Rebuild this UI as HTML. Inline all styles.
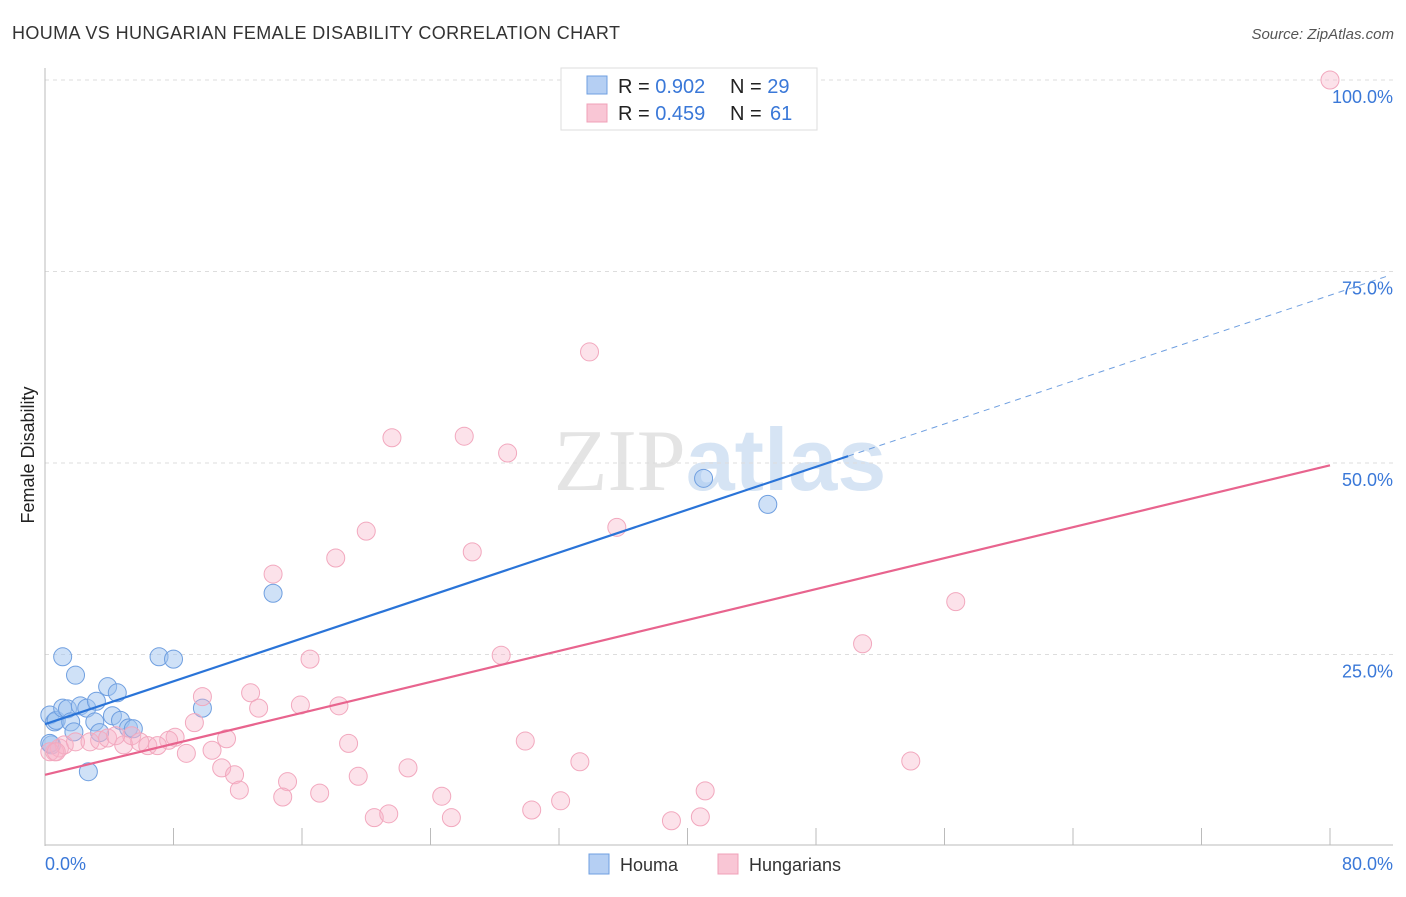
<!DOCTYPE html>
<html><head><meta charset="utf-8"><style>
body{margin:0;background:#fff;font-family:"Liberation Sans",sans-serif;}
svg text{font-family:"Liberation Sans",sans-serif;}
</style></head><body>
<svg id="c" width="1406" height="892">
<text x="12" y="39" font-size="18" fill="#333" textLength="608">HOUMA VS HUNGARIAN FEMALE DISABILITY CORRELATION CHART</text>
<text x="1394" y="39" font-size="15" fill="#555" font-style="italic" text-anchor="end">Source: ZipAtlas.com</text>
<text x="720" y="490" font-size="88" fill="#e4e4e4" text-anchor="middle"><tspan font-family="Liberation Serif">ZIP</tspan><tspan fill="#d6e4f4" font-weight="bold">atlas</tspan></text>
<g id="grid"></g>
<line x1="45" y1="68" x2="45" y2="846" stroke="#bbb"/>
<line x1="45" y1="845" x2="1393" y2="845" stroke="#bbb"/>
<text transform="translate(34,455) rotate(-90)" font-size="18" fill="#222" text-anchor="middle">Female Disability</text>
<text x="45" y="870" font-size="18" fill="#3a78d8">0.0%</text>
<text x="1393" y="870" font-size="18" fill="#3a78d8" text-anchor="end">80.0%</text>
<g id="marks"></g>
<g>
<rect x="561" y="68" width="256" height="62" fill="#fff" stroke="#ddd"/>
<rect x="587" y="76" width="20" height="18" fill="#b5cff3" stroke="#6f9fe0"/>
<rect x="587" y="104" width="20" height="18" fill="#f9c6d5" stroke="#f0a0b8"/>
<text x="618" y="93" font-size="20" fill="#222">R = <tspan fill="#3a78d8">0.902</tspan><tspan x="730">N = </tspan><tspan fill="#3a78d8">29</tspan></text>
<text x="618" y="120" font-size="20" fill="#222">R = <tspan fill="#3a78d8">0.459</tspan><tspan x="730">N = </tspan><tspan x="770" fill="#3a78d8">61</tspan></text>
</g>
<g>
<rect x="589" y="854" width="20" height="20" fill="#b5cff3" stroke="#6f9fe0"/>
<text x="620" y="871" font-size="18" fill="#333">Houma</text>
<rect x="718" y="854" width="20" height="20" fill="#f9c6d5" stroke="#f0a0b8"/>
<text x="749" y="871" font-size="18" fill="#333">Hungarians</text>
</g>
</svg>
<script>
const yTicks=[25,50,75,100];
const yTickLabels=["25.0%","50.0%","75.0%","100.0%"];
const xTicks=[0,8,16,24,32,40,48,56,64,72,80];
const houmaX=[0.3,0.6,0.4,0.7,1.1,1.1,1.4,1.6,1.9,1.8,2.2,2.6,2.7,3.1,3.2,3.4,3.9,4.2,4.5,4.7,5.2,5.5,7.1,8.0,9.8,14.2,41.0,45.0,0.3];
const houmaY=[17.1,16.2,13.2,16.4,24.7,18.0,17.9,16.2,22.3,14.9,18.3,18.0,9.7,16.2,18.9,14.8,20.8,17.0,20.0,16.4,15.4,15.3,24.7,24.4,18.0,33.0,48.0,44.6,13.4];
const hungX=[80,33.9,21.6,26.1,28.8,20.0,35.6,26.6,18.1,14.2,56.7,50.9,16.5,28.4,9.8,12.8,13.3,15.9,18.3,9.3,8.1,7.7,11.3,4.9,5.4,5.9,6.4,7.0,8.8,10.4,18.9,29.9,0.6,0.9,1.2,1.9,2.8,3.4,3.9,4.4,11.0,11.8,12.1,15.1,14.8,17.1,19.5,22.6,24.7,25.3,20.5,21.4,30.3,32.1,33.3,39.0,40.8,41.1,53.9,0.3,0.7];
const hungY=[100,64.5,53.3,53.5,51.3,41.1,41.6,38.4,37.6,35.5,31.9,26.4,24.4,24.9,19.5,20.0,18.0,18.4,18.3,16.1,14.2,13.8,14.0,13.2,14.4,13.6,13.1,13.1,12.1,12.5,13.4,13.7,12.3,12.8,13.2,13.6,13.6,13.8,14.1,14.4,10.2,9.3,7.3,8.4,6.4,6.9,9.1,10.2,6.5,3.7,3.7,4.2,4.7,5.9,11.0,3.3,3.8,7.2,11.1,12.3,12.3];
const houmaFit=[15.9,0.70];
const hungFit=[9.3,0.505];
const xs=v=>45+v*(1285/80);
const ys=v=>846-v*7.66;
const NS="http://www.w3.org/2000/svg";
const grid=document.getElementById('grid'),marks=document.getElementById('marks');
function mk(tag,a,p){const e=document.createElementNS(NS,tag);for(const k in a)e.setAttribute(k,a[k]);p.appendChild(e);return e;}
yTicks.forEach((t,i)=>{
 const l=mk('line',{x1:45,x2:1393,y1:ys(t),y2:ys(t),stroke:'#ddd','stroke-dasharray':'4,4'},grid);
 
 
 const tx=mk('text',{x:1393,y:ys(t)+23,'font-size':18,fill:'#3a78d8','text-anchor':'end'},grid);
 tx.textContent=yTickLabels[i];
 
 
});
xTicks.forEach(t=>{
 const l=mk('line',{x1:xs(t),x2:xs(t),y1:828,y2:845,stroke:'#bbb'},grid);
 
 
});
houmaX.forEach((x,i)=>{
 const c=mk('circle',{cx:xs(x),cy:ys(houmaY[i]),r:9,fill:'rgba(160,196,240,0.5)',stroke:'#6f9fe0','stroke-width':1},marks);
 
 
});
hungX.forEach((x,i)=>{
 const c=mk('circle',{cx:xs(x),cy:ys(hungY[i]),r:9,fill:'rgba(248,180,200,0.38)',stroke:'#f2a8be','stroke-width':1},marks);
 
 
});
const hb=mk('line',{x1:xs(0),y1:ys(houmaFit[0]),x2:xs(50),y2:ys(houmaFit[0]+50*houmaFit[1]),stroke:'#2a74d8','stroke-width':2.2},marks);


const hd=mk('line',{x1:xs(50),y1:ys(houmaFit[0]+50*houmaFit[1]),x2:xs(83.7),y2:ys(houmaFit[0]+83.7*houmaFit[1]),stroke:'#6f9fe0','stroke-width':1,'stroke-dasharray':'6,5'},marks);


const pl=mk('line',{x1:xs(0),y1:ys(hungFit[0]),x2:xs(80),y2:ys(hungFit[0]+80*hungFit[1]),stroke:'#e8648e','stroke-width':2.2},marks);


</script>
</body></html>
